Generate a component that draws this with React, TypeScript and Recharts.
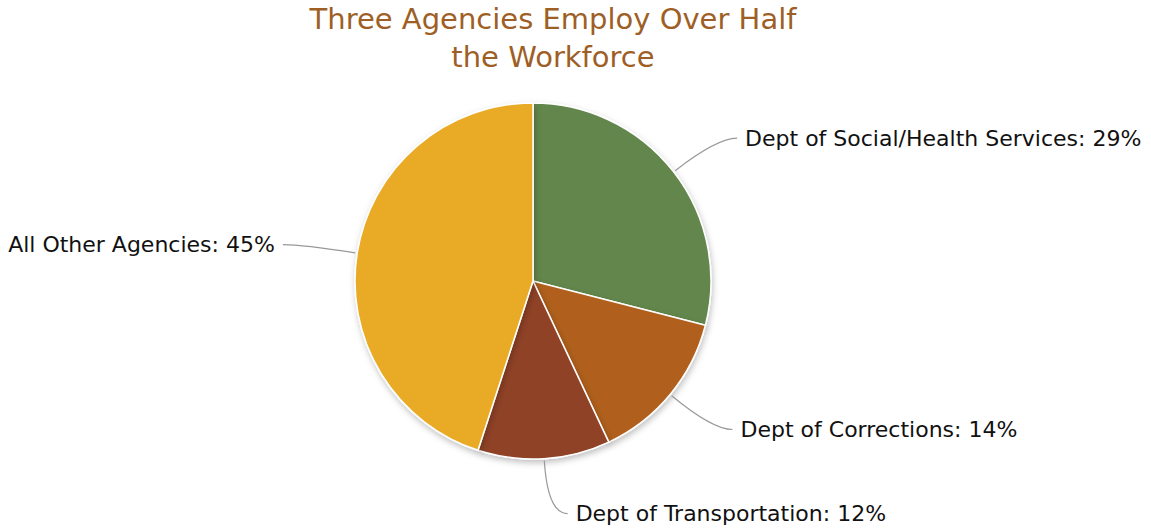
import { PieChart, Pie, Cell } from "recharts";

const agencies = [
  "Dept of Social/Health Services",
  "Dept of Corrections",
  "Dept of Transportation",
  "All Other Agencies",
];
const shares = [29, 14, 12, 45];
const colors = ["#62864B", "#B0611F", "#8F4226", "#E9AB27"];

const data = agencies.map((name, i) => ({ name, value: shares[i] }));

const RAD = Math.PI / 180;

function renderLabel(props: any) {
  const { cx, cy, midAngle, outerRadius, name, value } = props;
  const cos = Math.cos(-midAngle * RAD);
  const sin = Math.sin(-midAngle * RAD);
  const x1 = cx + (outerRadius + 2) * cos;
  const y1 = cy + (outerRadius + 2) * sin;
  const x2 = cx + (outerRadius + 55) * cos;
  const y2 = cy + (outerRadius + 55) * sin;
  const right = cos >= 0;
  const x3 = x2 + (right ? 20 : -20);
  return (
    <g>
      <path
        d={`M${x1},${y1} Q${x2},${y2} ${x3},${y2}`}
        stroke="#999"
        strokeWidth={1.2}
        fill="none"
      />
      <text
        x={x3 + (right ? 8 : -8)}
        y={y2}
        textAnchor={right ? "start" : "end"}
        dominantBaseline="central"
        fontFamily="DejaVu Sans"
        fontSize={22}
        fill="#111"
      >
        {`${name}: ${value}%`}
      </text>
    </g>
  );
}

export default function App() {
  return (
    <div style={{ position: "absolute", left: 0, top: 0, width: 1151, height: 529 }}>
      <div
        style={{
          position: "absolute",
          left: 0,
          width: 1106,
          top: 0,
          textAlign: "center",
          fontFamily: "DejaVu Sans",
          fontSize: 29,
          lineHeight: "38px",
          color: "#9E5F26",
        }}
      >
        Three Agencies Employ Over Half
        <br />
        the Workforce
      </div>
      <PieChart
        width={1151}
        height={529}
        margin={{ top: 0, right: 0, bottom: 0, left: 0 }}
        style={{ position: "absolute", left: 0, top: 0 }}
      >
        <defs>
          <filter id="shadow" x="-10%" y="-10%" width="120%" height="120%">
            <feDropShadow dx="1" dy="3" stdDeviation="3" floodColor="#000" floodOpacity="0.25" />
          </filter>
        </defs>
        <Pie
          data={data}
          dataKey="value"
          nameKey="name"
          cx={533}
          cy={281}
          outerRadius={178}
          startAngle={90}
          endAngle={-270}
          stroke="#fff"
          strokeWidth={1.5}
          label={renderLabel}
          labelLine={false}
          isAnimationActive={false}
          style={{ filter: "url(#shadow)" }}
        >
          {data.map((d, i) => (
            <Cell key={d.name} fill={colors[i]} />
          ))}
        </Pie>
      </PieChart>
    </div>
  );
}
